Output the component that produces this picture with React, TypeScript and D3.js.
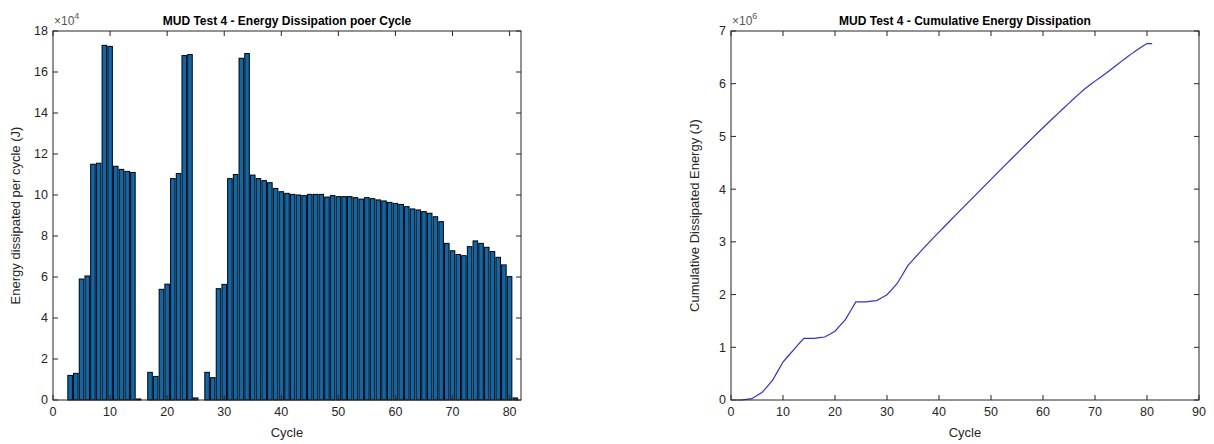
import * as d3 from "d3";
import React from "react";

// cycle numbers 1..81
const cycles = d3.range(1, 82);

// energy dissipated per cycle, in units of 1e4 J
const energyPerCycle = [
  0, 0, 1.2, 1.3, 5.9, 6.05, 11.5, 11.55, 17.3, 17.25,
  11.4, 11.25, 11.15, 11.1, 0.05, 0, 1.35, 1.15, 5.4, 5.65,
  10.8, 11.05, 16.8, 16.85, 0.1, 0, 1.35, 1.09, 5.43, 5.64,
  10.8, 11.0, 16.67, 16.9, 10.97, 10.8, 10.7, 10.6, 10.32, 10.16,
  10.08, 10.03, 10.0, 9.97, 10.03, 10.03, 10.03, 9.9, 9.97, 9.92,
  9.92, 9.92, 9.87, 9.8, 9.87, 9.82, 9.76, 9.71, 9.64, 9.59,
  9.54, 9.43, 9.32, 9.27, 9.19, 9.11, 8.94, 8.7, 7.64, 7.28,
  7.1, 7.04, 7.48, 7.76, 7.64, 7.45, 7.24, 6.96, 6.59, 6.02,
  0.1,
];

// cumulative dissipated energy, in units of 1e6 J
const cumulativeEnergy = [
  0, 0, 0.012, 0.025, 0.084, 0.145, 0.26, 0.375, 0.548, 0.721,
  0.835, 0.947, 1.059, 1.17, 1.17, 1.17, 1.184, 1.195, 1.249, 1.306,
  1.414, 1.524, 1.692, 1.861, 1.862, 1.862, 1.875, 1.886, 1.94, 1.997,
  2.105, 2.215, 2.381, 2.55, 2.66, 2.768, 2.875, 2.981, 3.084, 3.186,
  3.287, 3.387, 3.487, 3.587, 3.687, 3.787, 3.888, 3.987, 4.086, 4.185,
  4.285, 4.384, 4.483, 4.581, 4.679, 4.777, 4.875, 4.972, 5.069, 5.164,
  5.26, 5.354, 5.447, 5.54, 5.632, 5.723, 5.812, 5.899, 5.976, 6.049,
  6.12, 6.19, 6.265, 6.342, 6.419, 6.493, 6.566, 6.635, 6.701, 6.761,
  6.762,
];

const leftXTicks = [0, 10, 20, 30, 40, 50, 60, 70, 80];
const leftYTicks = [0, 2, 4, 6, 8, 10, 12, 14, 16, 18];
const rightXTicks = [0, 10, 20, 30, 40, 50, 60, 70, 80, 90];
const rightYTicks = [0, 1, 2, 3, 4, 5, 6, 7];

const FONT = "'Liberation Sans', Arial, Helvetica, sans-serif";
const AXIS = "#262626";
const TICK = 5;

function Frame({ x, y, xTicks, yTicks }: any) {
  const [x0, x1] = x.range();
  const [y0, y1] = y.range();
  return (
    <g>
      <rect x={x0} y={y1} width={x1 - x0} height={y0 - y1} fill="none" stroke={AXIS} strokeWidth={1} />
      {xTicks.map((t: number) => (
        <g key={"x" + t}>
          <line x1={x(t)} x2={x(t)} y1={y0} y2={y0 - TICK} stroke={AXIS} />
          <line x1={x(t)} x2={x(t)} y1={y1} y2={y1 + TICK} stroke={AXIS} />
          <text x={x(t)} y={y0 + 16} textAnchor="middle" fontSize={12.5} fill={AXIS}>{t}</text>
        </g>
      ))}
      {yTicks.map((t: number) => (
        <g key={"y" + t}>
          <line x1={x0} x2={x0 + TICK} y1={y(t)} y2={y(t)} stroke={AXIS} />
          <line x1={x1} x2={x1 - TICK} y1={y(t)} y2={y(t)} stroke={AXIS} />
          <text x={x0 - 5} y={y(t)} dy="0.35em" textAnchor="end" fontSize={12.5} fill={AXIS}>{t}</text>
        </g>
      ))}
    </g>
  );
}

function Exponent({ x, y, exp }: any) {
  return (
    <text x={x} y={y} fontSize={12} fill="#555">
      ×10<tspan dy={-6} fontSize={9}>{exp}</tspan>
    </text>
  );
}

export default function App() {
  const top = 31, bottom = 400;

  const xL = d3.scaleLinear().domain([0, 82]).range([53, 521]);
  const yL = d3.scaleLinear().domain([0, 18]).range([bottom, top]);

  const xR = d3.scaleLinear().domain([0, 90]).range([731, 1199]);
  const yR = d3.scaleLinear().domain([0, 7]).range([bottom, top]);

  const line = d3.line<number>()
    .x((_, i) => xR(cycles[i]))
    .y((d) => yR(d));

  const cxL = (xL.range()[0] + xL.range()[1]) / 2;
  const cxR = (xR.range()[0] + xR.range()[1]) / 2;
  const cy = (top + bottom) / 2;

  return (
    <div style={{ position: "fixed", left: 0, top: 0 }}>
      <svg width={1214} height={444} style={{ display: "block", background: "#fff" }} fontFamily={FONT}>
        {/* left: energy per cycle */}
        <g>
          {cycles.map((c, i) => (
            <rect
              key={c}
              x={xL(c - 0.4)}
              y={yL(energyPerCycle[i])}
              width={xL(c + 0.4) - xL(c - 0.4)}
              height={yL(0) - yL(energyPerCycle[i])}
              fill="#0b68ad"
              stroke="#000"
              strokeWidth={1}
            />
          ))}
          <Frame x={xL} y={yL} xTicks={leftXTicks} yTicks={leftYTicks} />
          <Exponent x={54} y={25} exp={4} />
          <text x={cxL} y={25} textAnchor="middle" fontSize={12} fontWeight="bold" fill="#000">
            MUD Test 4 - Energy Dissipation poer Cycle
          </text>
          <text x={cxL} y={437} textAnchor="middle" fontSize={13} fill={AXIS}>Cycle</text>
          <text transform={`translate(20,${cy}) rotate(-90)`} textAnchor="middle" fontSize={13} fill={AXIS}>
            Energy dissipated per cycle (J)
          </text>
        </g>

        {/* right: cumulative energy */}
        <g>
          <path d={line(cumulativeEnergy) || ""} fill="none" stroke="#3030d8" strokeWidth={1.2} />
          <Frame x={xR} y={yR} xTicks={rightXTicks} yTicks={rightYTicks} />
          <Exponent x={732} y={25} exp={6} />
          <text x={cxR} y={25} textAnchor="middle" fontSize={12} fontWeight="bold" fill="#000">
            MUD Test 4 - Cumulative Energy Dissipation
          </text>
          <text x={cxR} y={437} textAnchor="middle" fontSize={13} fill={AXIS}>Cycle</text>
          <text transform={`translate(699,${cy}) rotate(-90)`} textAnchor="middle" fontSize={13} fill={AXIS}>
            Cumulative Dissipated Energy (J)
          </text>
        </g>
      </svg>
    </div>
  );
}
